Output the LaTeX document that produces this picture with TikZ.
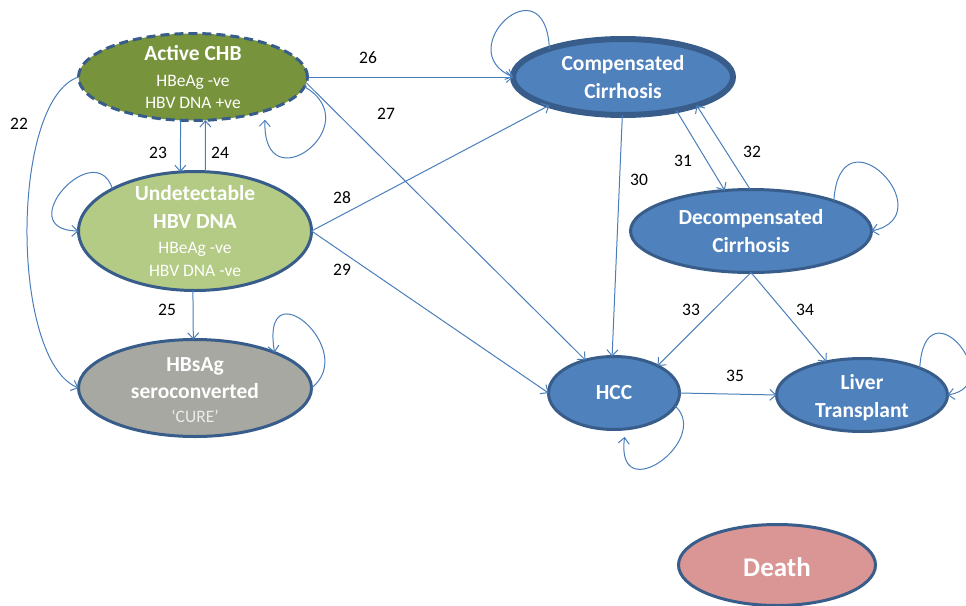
\documentclass[tikz,border=0pt]{standalone}
\usepackage{fontspec}
\setmainfont{Carlito}
\usetikzlibrary{arrows.meta,shapes.geometric}
\definecolor{bord}{HTML}{385D8A}
\definecolor{lnk}{HTML}{4A7EBB}
\definecolor{actf}{HTML}{77933C}
\definecolor{undf}{HTML}{B3CB84}
\definecolor{curf}{HTML}{A6A8A1}
\definecolor{bluef}{HTML}{4F81BD}
\definecolor{deathf}{HTML}{D99694}
\newcommand{\tb}{\bfseries\fontsize{21.5}{28}\selectfont}
\begin{document}
\begin{tikzpicture}[x=1pt,y=-1pt,
  st/.style={ellipse, draw=bord, line width=3pt, inner sep=0pt, outer sep=0pt},
  ttl/.style={text=white, align=center, inner sep=0pt, font=\fontsize{17.5}{22}\selectfont},
  conn/.style={draw=lnk, line width=1pt, -{Straight Barb[length=6pt,width=11pt]}},
  lab/.style={font=\fontsize{17.5}{21}\selectfont, text=black, inner sep=0pt}
]
\useasboundingbox (0,0) rectangle (966,605);

% states
\node[st, dash pattern=on 9pt off 5pt, fill=actf, minimum width=229pt, minimum height=87pt,
  label={[ttl]center:{{\tb Active CHB}\\[4pt]HBeAg -ve\\HBV DNA +ve}}] (A) at (193,77) {};
\node[st, fill=undf, minimum width=233pt, minimum height=119pt,
  label={[ttl]center:{{\tb Undetectable}\\[6pt]{\tb HBV DNA}\\[3pt]HBeAg -ve\\[0.7pt]HBV DNA -ve}}] (U) at (195,231) {};
\node[st, fill=curf, minimum width=233pt, minimum height=97pt,
  label={[ttl, yshift=-2.5pt]center:{{\tb HBsAg}\\[5pt]{\tb seroconverted}\\[2pt]{\color{white!92!black}`CURE'}}}] (H) at (195,388) {};
\node[st, line width=6pt, fill=bluef, minimum width=220pt, minimum height=76pt,
  label={[ttl, font=\tb]center:{Compensated\\Cirrhosis}}] (C) at (623,77) {};
\node[st, fill=bluef, minimum width=241pt, minimum height=83pt,
  label={[ttl, font=\tb]center:{Decompensated\\Cirrhosis}}] (D) at (751,231) {};
\node[st, fill=bluef, minimum width=131pt, minimum height=73pt,
  label={[ttl, font=\tb]center:{HCC}}] (X) at (614,393) {};
\node[st, fill=bluef, minimum width=171pt, minimum height=73pt,
  label={[ttl, font=\tb, yshift=-3pt]center:{Liver\\Transplant}}] (L) at (862,395) {};
\node[st, fill=deathf, minimum width=197pt, minimum height=81pt,
  label={[ttl, font=\bfseries\fontsize{27}{32}\selectfont, yshift=-2pt]center:{Death}}] (Z) at (777,565) {};

% transitions
\draw[conn] (A.west) .. controls (10,100) and (10,360) .. (H.west);
\draw[conn] (A.254) -- (U.104);
\draw[conn] (U.80) -- (A.286);
\draw[conn] (U.268) -- (H.92);
\draw[conn] (A.east) -- (C.west);
\draw[conn] (A.357) -- (X.131);
\draw[conn] (U.east) -- (C.201);
\draw[conn] (U.east) -- (X.west);
\draw[conn] (C.269) -- (X.93);
\draw[conn] (C.328) -- (D.123);
\draw[conn] (D.91) -- (C.339);
\draw[conn] (D.south) -- (X.32);
\draw[conn] (D.south) -- (L.137);
\draw[conn] (X.east) -- (L.west);

% self loops
\draw[conn, shorten >=9pt] (A.355) .. controls (370,125) and (262,205) .. (A.335);
\draw[conn] (U.153) .. controls (95,135) and (10,230) .. (U.west);
\draw[conn] (H.east) .. controls (360,350) and (260,265) .. (H.24);
\draw[conn] (C.159) .. controls (545,-40) and (450,50) .. (C.west);
\draw[conn] (D.20) .. controls (840,105) and (945,215) .. (D.east);
\draw[conn, shorten >=8pt] (X.348) .. controls (712,440) and (615,510) .. (X.288);
\draw[conn] (L.25) .. controls (925,280) and (1010,385) .. (L.east);

% labels
\node[lab] (l22) at (19,124) {22};
\node[lab] (l23) at (158,153) {23};
\node[lab] (l24) at (220,153) {24};
\node[lab] (l25) at (167,310) {25};
\node[lab] (l26) at (368,58) {26};
\node[lab] (l27) at (386,114) {27};
\node[lab] (l28) at (342,198) {28};
\node[lab] (l29) at (342,270) {29};
\node[lab] (l30) at (639,180) {30};
\node[lab] (l31) at (683,161) {31};
\node[lab] (l32) at (752,152) {32};
\node[lab] (l33) at (691,310) {33};
\node[lab] (l34) at (805,310) {34};
\node[lab] (l35) at (735,376) {35};
\end{tikzpicture}
\end{document}
